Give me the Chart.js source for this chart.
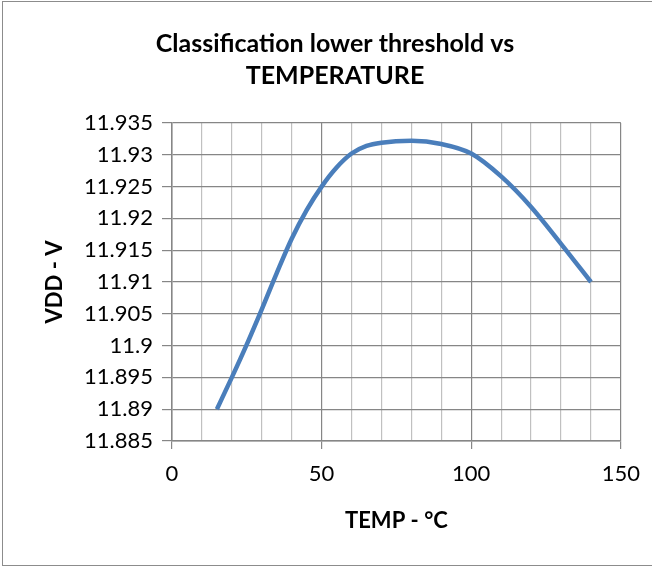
<!DOCTYPE html>
<html>
<head>
<meta charset="utf-8">
<script src="https://cdn.jsdelivr.net/npm/chart.js@4.4.1/dist/chart.umd.min.js"></script>
<style>
html, body { margin: 0; padding: 0; background: #fff; overflow: hidden; }
#wrap { position: relative; width: 652px; height: 567px; }
#frame { position: absolute; left: 2px; top: 1px; width: 700px; height: 565px; border: 1px solid #8c8c8c; box-sizing: border-box; pointer-events: none; }
canvas { position: absolute; left: 0; top: 0; }
</style>
</head>
<body>
<div id="wrap">
    <canvas id="chart" width="652" height="567"></canvas>
    <div id="frame"></div>
</div>
<script>
// Date
const temps = [15, 20, 25, 30, 35, 40, 45, 50, 55, 60, 65, 70, 80, 90, 100, 110, 120, 130, 140];
const vdd = [11.89, 11.895, 11.9002, 11.9057, 11.9114, 11.9168, 11.9213, 11.925, 11.928, 11.9302, 11.9314, 11.9319, 11.9322, 11.9317, 11.9302, 11.9266, 11.9218, 11.916, 11.91];
const yTicks = [11.885, 11.89, 11.895, 11.9, 11.905, 11.91, 11.915, 11.92, 11.925, 11.93, 11.935];
const xLabels = [0, 50, 100, 150];

const gridDark = '#868686';
const gridLight = '#c0c0c0';

Chart.defaults.font.family = "'Lato', 'DejaVu Sans', sans-serif";
Chart.defaults.color = '#000';

// Mutăm titlul puțin spre dreapta, ca în original
const titleShift = {
    id: 'titleShift',
    afterLayout(chart) {
        if (chart.titleBlock) {
            chart.titleBlock.left = 47;
        }
    }
};

const ctx = document.getElementById('chart').getContext('2d');
new Chart(ctx, {
    type: 'line',
    data: {
        datasets: [{
            data: temps.map((t, i) => ({ x: t, y: vdd[i] })),
            borderColor: '#4a7ebb',
            borderWidth: 4.5,
            pointRadius: 0,
            cubicInterpolationMode: 'monotone',
            fill: false
        }]
    },
    options: {
        responsive: false,
        animation: false,
        layout: { padding: { left: 0, right: 29, top: 0, bottom: 0 } },
        plugins: {
            legend: { display: false },
            tooltip: { enabled: false },
            title: {
                display: true,
                text: ['Classification lower threshold vs', 'TEMPERATURE'],
                color: '#000',
                font: { size: 25, weight: 'bold', lineHeight: 1.28 },
                padding: { top: 27.5, bottom: 31.5 }
            }
        },
        scales: {
            x: {
                type: 'linear',
                min: 0,
                max: 150,
                afterFit: function(scale) { scale.height = 126; },
                ticks: {
                    stepSize: 10,
                    autoSkip: false,
                    maxRotation: 0,
                    padding: 12,
                    font: { size: 22 },
                    callback: function(value) {
                        return xLabels.includes(value) ? String(value) : '';
                    }
                },
                grid: {
                    color: c => (c.tick && c.tick.value % 50 === 0) ? gridDark : gridLight,
                    tickColor: c => (c.tick && c.tick.value % 50 === 0) ? gridDark : 'rgba(0,0,0,0)',
                    tickLength: 8,
                    lineWidth: 1.2
                },
                border: { color: gridDark, width: 1.5 },
                title: {
                    display: true,
                    text: 'TEMP - °C',
                    color: '#000',
                    font: { size: 22, weight: 'bold' },
                    padding: { top: 0, bottom: 33 }
                }
            },
            y: {
                min: 11.885,
                max: 11.935,
                afterFit: function(scale) { scale.width = 172; },
                afterBuildTicks: function(scale) {
                    scale.ticks = yTicks.map(v => ({ value: v }));
                },
                ticks: {
                    padding: 9,
                    font: { size: 22 },
                    callback: function(value) {
                        return String(parseFloat(value.toFixed(3)));
                    }
                },
                grid: {
                    color: gridDark,
                    tickColor: gridDark,
                    tickLength: 10,
                    lineWidth: 1.2
                },
                border: { color: gridDark, width: 1.5 },
                title: {
                    display: true,
                    text: 'VDD - V',
                    color: '#000',
                    font: { size: 22, weight: 'bold' },
                    padding: { top: 42, bottom: 0 }
                }
            }
        }
    },
    plugins: [titleShift]
});
</script>
</body>
</html>
